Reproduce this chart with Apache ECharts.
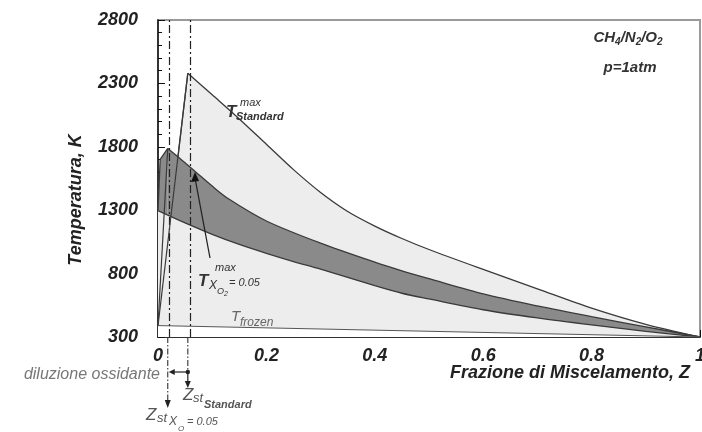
<!DOCTYPE html>
<html><head><meta charset="utf-8">
<script src="https://cdn.jsdelivr.net/npm/echarts@6/dist/echarts.min.js"></script>
<style>html,body{margin:0;padding:0;background:#fff}#c{width:702px;height:432px}</style>
</head><body><div id="c"></div>
<script>
// ---- data ----
const zStd  = [0, 0.055, 0.1, 0.15, 0.2, 0.25, 0.3, 0.35, 0.4, 0.45, 0.5, 0.6, 0.7, 0.8, 0.9, 1.0];
const tStd  = [390, 2380, 2210, 2020, 1820, 1620, 1440, 1290, 1175, 1077, 990, 833, 680, 528, 400, 300];
const zDilUp = [0, 0.004, 0.018, 0.04, 0.07, 0.1, 0.13, 0.2, 0.3, 0.4, 0.45, 0.5, 0.6, 0.7, 0.8, 0.9, 1.0];
const tDilUp = [1300, 1700, 1787, 1710, 1600, 1490, 1390, 1215, 1040, 890, 822, 760, 640, 545, 460, 380, 300];
const zDilLow = [0, 0.05, 0.1, 0.15, 0.2, 0.25, 0.3, 0.4, 0.45, 0.5, 0.6, 0.7, 0.8, 0.9, 1.0];
const tDilLow = [1297, 1200, 1110, 1030, 960, 895, 835, 705, 645, 600, 515, 450, 395, 345, 300];
const zFrozen = [0, 1];
const tFrozen = [390, 300];
const zStdRise = [0, 0.055];
const tStdRise = [390, 2380];
const zDilRise = [0, 0.018];
const tDilRise = [390, 1787];
const zStLines = [0.018, 0.055];
const yMin = 300, yMax = 2800, yStep = 500;
const xMin = 0, xMax = 1, xStep = 0.2;

function pairs(z, t) { return z.map((v, i) => [v, t[i]]); }
function peakIdx(t) { let m = 0; t.forEach((v, i) => { if (v > t[m]) m = i; }); return m; }
const pS = peakIdx(tStd), pU = peakIdx(tDilUp);

const BOLDIT = 'italic bold 18px "Liberation Sans", Arial, sans-serif';
const lineC = '#3a3a3a';
const light = '#ededed';
const dark = '#8a8a8a';

function area(data, color, z, smooth, lc, lw) {
  return {type: 'line', data: data, symbol: 'none', z: z, smooth: smooth ? 0.3 : false,
    lineStyle: {color: lc || lineC, width: lw || 1.3},
    areaStyle: {color: color, opacity: 1, origin: 'start'}};
}
const S = pairs(zStd, tStd), U = pairs(zDilUp, tDilUp);

const chart = echarts.init(document.getElementById('c'), null, {renderer: 'canvas'});
chart.setOption({
  animation: false,
  grid: {left: 158, right: 2, top: 20, bottom: 95, show: true, borderColor: '#9a9a9a', borderWidth: 2,
    backgroundColor: 'transparent', outerBoundsMode: 'none', containLabel: false},
  xAxis: {
    type: 'value', min: xMin, max: xMax, interval: xStep,
    axisLine: {lineStyle: {color: '#111', width: 1.5}},
    axisTick: {inside: true, length: 7, lineStyle: {color: '#111'}},
    minorTick: {show: true, splitNumber: 4, length: 4, lineStyle: {color: '#111'}},
    splitLine: {show: false},
    axisLabel: {margin: 10, color: '#222', fontFamily: 'Liberation Sans', fontWeight: 'bold', fontStyle: 'italic', fontSize: 18,
      formatter: v => String(Number(v.toFixed(1)))}
  },
  yAxis: {
    type: 'value', min: yMin, max: yMax, interval: yStep,
    axisLine: {show: true, lineStyle: {color: '#111', width: 1.5}},
    axisTick: {show: true, inside: true, length: 7, lineStyle: {color: '#111'}},
    minorTick: {show: true, splitNumber: 5, length: 4, lineStyle: {color: '#111'}},
    splitLine: {show: false},
    axisLabel: {margin: 20, color: '#222', fontFamily: 'Liberation Sans', fontWeight: 'bold', fontStyle: 'italic', fontSize: 18,
      formatter: v => String(v)}
  },
  series: [
    area(S.slice(0, pS + 1), light, 1, false),
    area(S.slice(pS), light, 1, true),
    area(U.slice(0, pU + 1), dark, 2, false),
    area(U.slice(pU), dark, 2, true),
    area(pairs(zDilLow, tDilLow), light, 3, true),
    area(pairs(zFrozen, tFrozen), '#ffffff', 4, false, '#555', 1),
    {type: 'line', data: pairs(zStdRise, tStdRise), symbol: 'none', z: 5, lineStyle: {color: lineC, width: 1.2}},
    {type: 'line', data: pairs(zDilRise, tDilRise), symbol: 'none', z: 5, lineStyle: {color: lineC, width: 1.2}},
    {type: 'line', data: [], z: 6,
      markLine: {silent: true, symbol: 'none', label: {show: false}, animation: false,
        lineStyle: {color: '#222', width: 1.2, type: [8, 3, 2, 3]},
        data: zStLines.map(v => ({xAxis: v}))}}
  ]
});

const px = v => chart.convertToPixel({gridIndex: 0}, v);
const xA = px([zStLines[0], yMin])[0];
const xB = px([zStLines[1], yMin])[0];
const y0 = px([0, yMin])[1];

function txt(text, x, y, font, fill, align, extra) {
  return Object.assign({type: 'text', x: x, y: y, z: 100,
    style: {text: text, font: font, fill: fill || '#333', align: align || 'left', verticalAlign: 'middle'}}, extra || {});
}
const F = (s, w, st) => (st || 'italic') + ' ' + (w || 'normal') + ' ' + s + 'px "Liberation Sans", Arial, sans-serif';
const dashC = '#333';

const g = [
  txt('Temperatura, K', 76, 200, BOLDIT, '#222', 'center', {rotation: Math.PI / 2}),
  txt('Frazione di Miscelamento, Z', 690, 373, F(18, 'bold'), '#222', 'right'),
  {type: 'text', x: 628, y: 38, z: 100, style: {text: 'CH{s|4}/N{s|2}/O{s|2}', align: 'center', verticalAlign: 'middle',
    font: F(15, 'bold'), fill: '#333', rich: {s: {font: F(10, 'bold'), fill: '#333', padding: [8, 0, 0, 0]}}}},
  txt('p=1atm', 630, 68, F(15, 'bold'), '#333', 'center'),
  txt('T', 226, 112, F(17, 'bold'), '#333'),
  txt('max', 240, 103, F(11), '#333'),
  txt('Standard', 236, 117, F(11, 'bold'), '#333'),
  txt('T', 198, 281, F(17, 'bold'), '#333'),
  txt('max', 215, 268, F(11), '#333'),
  txt('X', 209, 286, F(12), '#333'),
  txt('O', 217, 291, F(9), '#333'),
  txt('2', 224, 294, F(7), '#333'),
  txt('= 0.05', 229, 283, F(11), '#333'),
  txt('T', 231, 317, F(15), '#666'),
  txt('frozen', 240, 323, F(12), '#666'),
  {type: 'line', z: 100, shape: {x1: 210, y1: 258, x2: 195, y2: 178}, style: {stroke: '#222', lineWidth: 1.3}},
  {type: 'polygon', z: 100, shape: {points: [[195, 172], [191, 182], [199, 181]]}, style: {fill: '#111'}},
  {type: 'line', z: 100, shape: {x1: xA, y1: y0, x2: xA, y2: 402}, style: {stroke: dashC, lineWidth: 1.1, lineDash: [6, 2, 1.5, 2]}},
  {type: 'polygon', z: 100, shape: {points: [[xA - 3, 400], [xA + 3, 400], [xA, 408]]}, style: {fill: '#222'}},
  {type: 'line', z: 100, shape: {x1: xB, y1: y0, x2: xB, y2: 372}, style: {stroke: dashC, lineWidth: 1.1, lineDash: [6, 2, 1.5, 2]}},
  {type: 'line', z: 100, shape: {x1: xB, y1: 372, x2: xA + 5, y2: 372}, style: {stroke: '#222', lineWidth: 1.2}},
  {type: 'polygon', z: 100, shape: {points: [[xA + 1, 372], [xA + 7, 369], [xA + 7, 375]]}, style: {fill: '#222'}},
  {type: 'circle', z: 100, shape: {cx: xB, cy: 372, r: 2.2}, style: {fill: '#222'}},
  {type: 'line', z: 100, shape: {x1: xB, y1: 372, x2: xB, y2: 382}, style: {stroke: '#222', lineWidth: 1.2}},
  {type: 'polygon', z: 100, shape: {points: [[xB - 3, 381], [xB + 3, 381], [xB, 388]]}, style: {fill: '#222'}},
  txt('diluzione ossidante', 160, 375, F(16), '#777', 'right'),
  txt('Z', 183, 395, F(17), '#555'),
  txt('st', 193, 398, F(13), '#555'),
  txt('Standard', 204, 405, F(11, 'bold'), '#555'),
  txt('Z', 146, 415, F(17), '#555'),
  txt('st', 157, 418, F(13), '#555'),
  txt('X', 169, 422, F(12), '#555'),
  txt('O', 178, 429, F(8), '#555'),
  txt('= 0.05', 187, 422, F(11), '#555')
];
chart.setOption({graphic: g});
</script></body></html>
